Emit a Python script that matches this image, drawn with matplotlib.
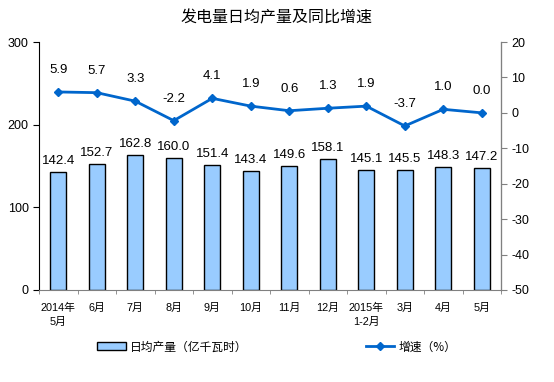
import matplotlib.pyplot as plt
import numpy as np

plt.rcParams['font.family'] = ['Liberation Sans', 'Noto Sans CJK SC', 'DejaVu Sans']
plt.rcParams['axes.unicode_minus'] = False

# data
months = ['2014年\n5月', '6月', '7月', '8月', '9月', '10月', '11月', '12月',
          '2015年\n1-2月', '3月', '4月', '5月']
output = [142.4, 152.7, 162.8, 160.0, 151.4, 143.4, 149.6, 158.1, 145.1, 145.5, 148.3, 147.2]
growth = [5.9, 5.7, 3.3, -2.2, 4.1, 1.9, 0.6, 1.3, 1.9, -3.7, 1.0, 0.0]

bar_color = '#99CCFF'
line_color = '#0066CC'

fig = plt.figure(figsize=(5.54, 3.82), dpi=100)
ax = fig.add_axes([0.0704, 0.241, 0.834, 0.649])
ax2 = ax.twinx()

x = np.arange(len(months))
bars = ax.bar(x, output, width=0.42, color=bar_color, edgecolor='black', linewidth=1.0,
              label='日均产量（亿千瓦时）', zorder=2)
for xi, v in zip(x, output):
    ax.text(xi, v + 6, f'{v:.1f}', ha='center', va='bottom', fontsize=9.5)

ln, = ax2.plot(x, growth, color=line_color, marker='D', markersize=4.5, linewidth=2,
               label='增速（%）', zorder=3)
for xi, v in zip(x, growth):
    ax2.text(xi, v + 4.5, f'{v:.1f}', ha='center', va='bottom', fontsize=9.5)

ax.set_xlim(-0.5, len(months) - 0.5)
ax.set_ylim(0, 300)
ax.set_yticks([0, 100, 200, 300])
ax2.set_ylim(-50, 20)
ax2.set_yticks(range(-50, 21, 10))

ax.set_xticks(x)
ax.set_xticklabels(months, fontsize=7.8, linespacing=1.5)
ax.set_xticks(np.arange(-0.5, len(months), 1), minor=True)
ax.tick_params(axis='x', which='major', length=0, pad=9)
ax.tick_params(axis='x', which='minor', length=3, color='#808080')
ax.tick_params(axis='y', labelsize=9, length=4)
ax2.tick_params(axis='y', labelsize=9, length=4, color='#808080')

ax.spines['top'].set_visible(False)
ax2.spines['top'].set_visible(False)
ax.spines['bottom'].set_color('#808080')
ax2.spines['bottom'].set_visible(False)
ax2.spines['right'].set_color('#808080')
ax2.spines['left'].set_visible(False)

fig.text(0.5, 0.953, '发电量日均产量及同比增速', ha='center', va='center', fontsize=11.5,
         family=['Noto Sans CJK SC', 'DejaVu Sans'])

fig.legend([bars, ln], ['日均产量（亿千瓦时）', '增速（%）'], loc='center',
           bbox_to_anchor=(0.5, 0.092), ncol=2, frameon=False,
           columnspacing=10, handlelength=2.4, handletextpad=0.4,
           prop={'family': ['Noto Sans CJK SC', 'DejaVu Sans'], 'size': 8.5})

fig.savefig('out.png', dpi=100)
